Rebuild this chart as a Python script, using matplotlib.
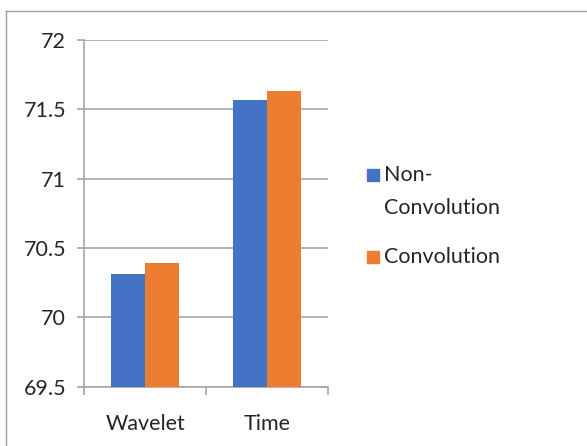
import matplotlib
matplotlib.use("Agg")
import matplotlib.pyplot as plt
from matplotlib.patches import Rectangle
from matplotlib.lines import Line2D
import numpy as np

categories = ["Wavelet", "Time"]
series_names = ["Non-\nConvolution", "Convolution"]
non_conv = [70.31, 71.57]
conv = [70.39, 71.63]
yticks = [69.5, 70, 70.5, 71, 71.5, 72]
ytick_labels = ["69.5", "70", "70.5", "71", "71.5", "72"]

colors = ["#4472C4", "#ED7D31"]
grid_c = "#A6A6A6"
text_c = "#262626"
font = "Lato"
fs = 15.5

W, H = 587, 446
fig = plt.figure(figsize=(W / 100, H / 100), dpi=100)
fig.patch.set_facecolor("white")

ax = fig.add_axes([84.3 / W, 1 - 386.7 / H, 244 / W, (386.7 - 40) / H])
x = np.arange(len(categories))
bw = 0.28
ax.bar(x - bw / 2, non_conv, bw, color=colors[0], zorder=3)
ax.bar(x + bw / 2, conv, bw, color=colors[1], zorder=3)
ax.set_ylim(69.5, 72)
ax.set_xlim(-0.5, 1.5)
ax.set_yticks(yticks)
ax.set_yticklabels(ytick_labels, fontfamily=font, fontsize=fs, color=text_c)
ax.yaxis.grid(True, color=grid_c, linewidth=1.2, zorder=0)
ax.tick_params(axis="y", length=5, width=1.2, color=grid_c, pad=8)
ax.set_xticks(x)
ax.set_xticklabels(categories, fontfamily=font, fontsize=fs, color=text_c)
ax.set_xticks([-0.5, 0.5, 1.5], minor=True)
ax.tick_params(axis="x", which="major", length=0, pad=20)
ax.tick_params(axis="x", which="minor", length=6, width=1.2, color=grid_c)
for s in ["top", "right"]:
    ax.spines[s].set_visible(False)
for s in ["left", "bottom"]:
    ax.spines[s].set_color(grid_c)
    ax.spines[s].set_linewidth(1.2)
ax.set_axisbelow(True)


def fx(px):
    return px / W


def fy(py):
    return 1 - py / H


# legend drawn in figure pixel coordinates
sq = 12
leg_rows = [174.7, 256.7]
for name, col, yc in zip(series_names, colors, leg_rows):
    fig.patches.append(Rectangle((fx(366.7), fy(yc + sq / 2)), sq / W, sq / H,
                                 transform=fig.transFigure, color=col))
    for i, line in enumerate(name.split("\n")):
        fig.text(fx(384), fy(yc + 33 * i), line, fontfamily=font, fontsize=fs,
                 color=text_c, va="center", ha="left")

# outer chart border
fig.add_artist(Line2D([fx(6), fx(6)], [0, fy(10.7)], transform=fig.transFigure,
                      color="#9E9E9E", linewidth=1))
fig.add_artist(Line2D([fx(6), 1], [fy(10.7), fy(10.7)], transform=fig.transFigure,
                      color="#9E9E9E", linewidth=1))

fig.savefig("out.png", dpi=100)
